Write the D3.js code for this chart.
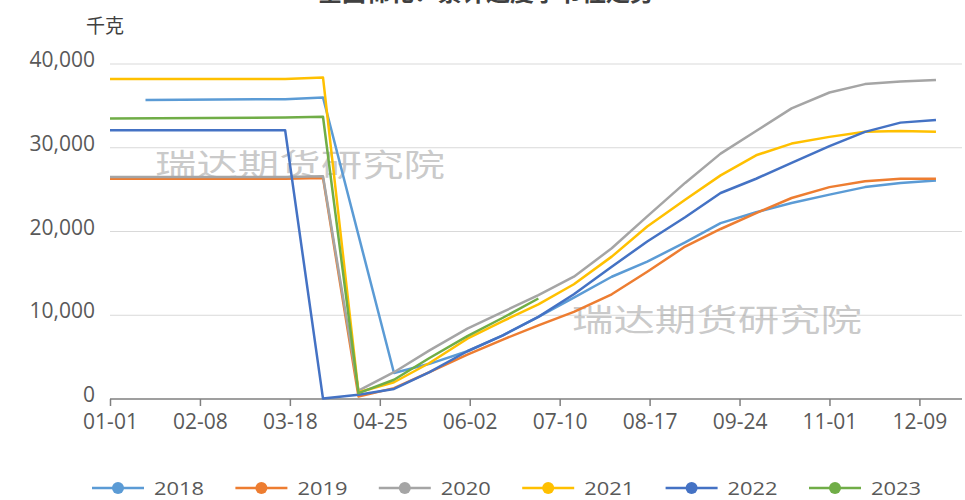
<!DOCTYPE html>
<html><head><meta charset="utf-8">
<script src="https://cdn.jsdelivr.net/npm/d3@7"></script>
<style>
html,body{margin:0;padding:0;background:#fff;}
svg{display:block;font-family:"Microsoft YaHei","Noto Sans CJK SC","Noto Sans",sans-serif;}
</style></head>
<body>
<svg id="chart" width="965" height="500"></svg>
<script>
// ---- data ----
const dates = ["01-01","01-16","03-16","04-01","04-16","05-01","05-16","06-01","06-16","07-01","07-16","08-01","08-16","09-01","09-16","10-01","10-16","11-01","11-16","12-01","12-16"];
const xTickLabels = ["01-01","02-08","03-18","04-25","06-02","07-10","08-17","09-24","11-01","12-09"];
const yTicks = [0,10000,20000,30000,40000];
const seriesNames = ["2018","2019","2020","2021","2022","2023"];
const s2018 = [null,35700,35800,36000,null,3100,4200,5700,7600,9800,12100,14600,16400,18700,21000,22300,23400,24400,25300,25800,26100];
const s2019 = [26300,null,26300,26400,300,1300,3200,5300,7100,8800,10400,12500,15200,18200,20300,22200,24000,25300,26000,26300,26300];
const s2020 = [26500,null,26500,26600,1000,3200,5800,8400,10400,12400,14600,18000,21800,25800,29300,32000,34700,36600,37600,37900,38100];
const s2021 = [38200,null,38200,38400,800,2000,4300,7200,9300,11300,13700,17000,20600,23800,26700,29100,30500,31300,31900,32000,31900];
const s2022 = [32100,null,32100,50,500,1200,3200,5700,7600,9800,12500,15800,18800,21700,24600,26300,28200,30200,31900,33000,33300];
const s2023 = [33500,null,33600,33700,700,2300,4900,7500,9700,12000,null,null,null,null,null,null,null,null,null,null,null];
const colors = ["#5B9BD5","#ED7D31","#A5A5A5","#FFC000","#4472C4","#70AD47"];
const allSeries = [s2018,s2019,s2020,s2021,s2022,s2023];
const unitLabel = "千克";
const watermark = "瑞达期货研究院";
const titleText = "全国棉花：累计进度季节性走势";

// ---- drawing ----
const svg = d3.select("#chart");
const parse = d3.timeParse("%Y-%m-%d");
const toDate = s => parse("2021-" + s);
const x = d3.scaleTime().domain([toDate("01-01"), toDate("12-27")]).range([110, 962]);
const y = d3.scaleLinear().domain([0, 40000]).range([399, 64]);
const numFont = "'Open Sans','DejaVu Sans',sans-serif";

// title (mostly clipped at top in the reference)
svg.append("text").attr("x", 486).attr("y", 1).attr("text-anchor", "middle")
  .attr("font-size", 24).attr("font-weight", "bold").attr("fill", "#404040").text(titleText);

// gridlines
svg.append("g").selectAll("line").data(yTicks.filter(d => d > 0)).join("line")
  .attr("x1", 110).attr("x2", 962).attr("y1", d => y(d)).attr("y2", d => y(d))
  .attr("stroke", "#d9d9d9").attr("stroke-width", 1);

// y axis labels
const yAxis = d3.axisLeft(y).tickValues(yTicks).tickSize(0).tickPadding(0).tickFormat(d3.format(","));
const gy = svg.append("g").attr("transform", "translate(95,0)").call(yAxis);
gy.select(".domain").remove();
gy.selectAll("text").attr("font-size", 21).attr("fill", "#595959")
  .attr("font-family", numFont).attr("dy", "0.12em");

// x axis
const xAxis = d3.axisBottom(x).tickValues(xTickLabels.map(toDate)).tickSize(7).tickPadding(8)
  .tickFormat(d3.timeFormat("%m-%d"));
const gx = svg.append("g").attr("transform", "translate(0,399)").call(xAxis);
gx.select(".domain").attr("stroke", "#7f7f7f").attr("stroke-width", 1.5).attr("d", "M110,0H962");
gx.selectAll(".tick line").attr("stroke", "#7f7f7f").attr("stroke-width", 1.5);
gx.selectAll("text").attr("font-size", 21).attr("fill", "#595959").attr("font-family", numFont);

// unit label
svg.append("text").attr("x", 86).attr("y", 33).attr("font-size", 19).attr("fill", "#404040").text(unitLabel);

// watermarks
[[155, 176], [572, 331]].forEach(([wx, wy]) => {
  svg.append("text").attr("x", wx).attr("y", wy).attr("font-size", 31)
    .attr("textLength", 290).attr("lengthAdjust", "spacingAndGlyphs")
    .attr("fill", "rgba(150,150,150,0.5)").text(watermark);
});

// lines
const line = d3.line()
  .x(d => x(toDate(d.date))).y(d => y(d.v));
allSeries.forEach((s, i) => {
  const pts = dates.map((dt, j) => ({date: dt, v: s[j]})).filter(p => p.v !== null);
  svg.append("path").datum(pts).attr("d", line).attr("fill", "none")
    .attr("stroke", colors[i]).attr("stroke-width", 2.5).attr("stroke-linejoin", "round");
});

// legend
const lg = svg.append("g");
seriesNames.forEach((n, i) => {
  const lx = 92 + i * 143.4;
  const g = lg.append("g").attr("transform", `translate(${lx},488)`);
  g.append("line").attr("x1", 0).attr("x2", 52).attr("stroke", colors[i]).attr("stroke-width", 2.5);
  g.append("circle").attr("cx", 26).attr("r", 6).attr("fill", colors[i]);
  g.append("text").attr("x", 62).attr("y", 0).attr("dy", "0.35em").attr("font-size", 19).attr("fill", "#595959")
    .attr("textLength", 50).attr("lengthAdjust", "spacingAndGlyphs")
    .attr("font-family", numFont).text(n);
});
</script>
</body></html>
